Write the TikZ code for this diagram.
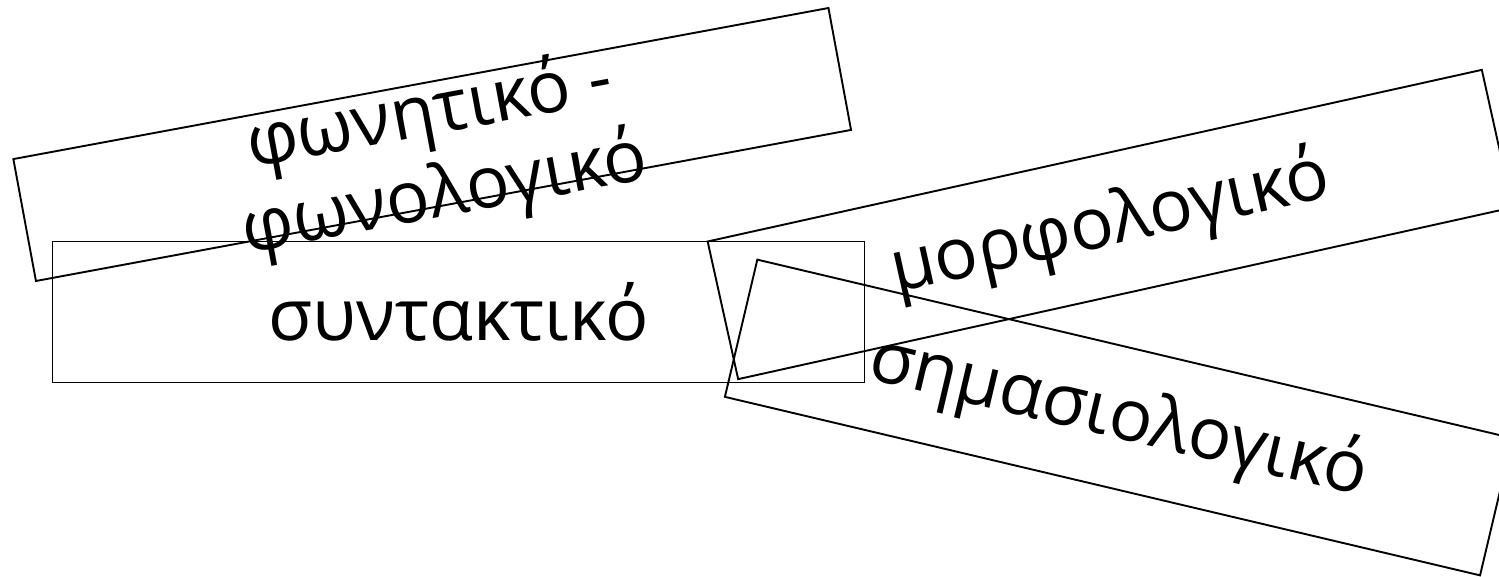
\documentclass[tikz,border=0pt]{standalone}
\usepackage{fontspec}
\setmainfont{Open Sans}
\begin{document}
\begin{tikzpicture}[x=1pt,y=-1pt,
  boxnode/.style={draw=black,line width=1.9pt,inner sep=0pt,outer sep=0pt,
    font=\fontsize{72}{83}\selectfont,align=center},
  lbl/.style={inner sep=0pt,font=\fontsize{72}{83}\selectfont,align=center}]
\useasboundingbox (0,0) rectangle (1499,577);
\clip (0,0) rectangle (1499,577);
\node[boxnode,minimum width=829pt,minimum height=124pt,rotate=10.5] (fon) at (432.2,144.5) {};
\node[lbl,rotate=10.5] (fonlbl) at (437,155) {φωνητικό -\\φωνολογικό};
\node[boxnode,minimum width=812pt,minimum height=141pt] (syn) at (458.5,312) {συντακτικό};
\node[boxnode,minimum width=793pt,minimum height=141pt,rotate=12.5] (mor) at (1110,224.5) {μορφολογικό};
\node[boxnode,minimum width=776pt,minimum height=141pt,rotate=-13.3] (sim) at (1118.7,417.5) {σημασιολογικό};
\end{tikzpicture}
\end{document}
